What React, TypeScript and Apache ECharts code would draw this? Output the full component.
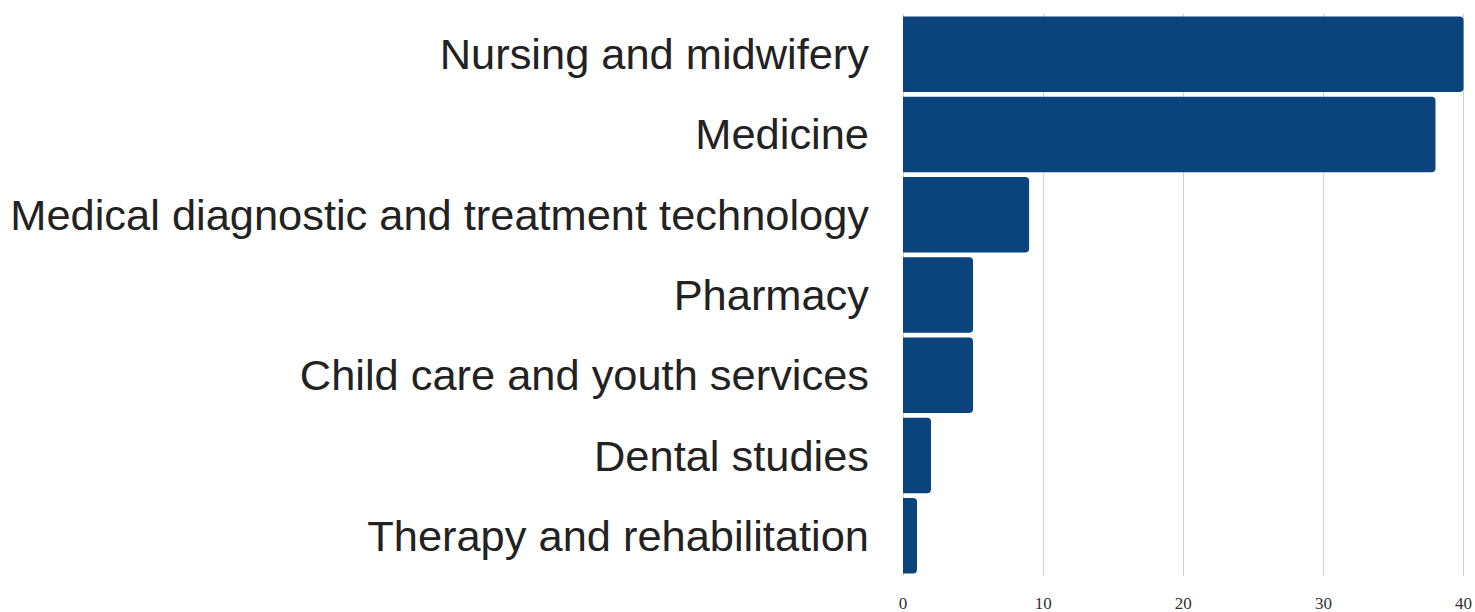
import React, { useEffect, useRef } from "react";
import * as echarts from "echarts";

const categories = [
  "Nursing and midwifery",
  "Medicine",
  "Medical diagnostic and treatment technology",
  "Pharmacy",
  "Child care and youth services",
  "Dental studies",
  "Therapy and rehabilitation",
];
const values = [40, 38, 9, 5, 5, 2, 1];
const xTicks = [0, 10, 20, 30, 40];

export default function App() {
  const ref = useRef<HTMLDivElement>(null);
  useEffect(() => {
    if (!ref.current) return;
    const chart = echarts.init(ref.current, null, { renderer: "svg" });
    chart.setOption({
      animation: false,
      backgroundColor: "#ffffff",
      grid: { left: 903, right: 11, top: 14, bottom: 35, containLabel: false },
      xAxis: {
        type: "value",
        min: xTicks[0],
        max: xTicks[xTicks.length - 1],
        interval: 10,
        axisLine: { show: false },
        axisTick: { show: false },
        splitLine: { show: true, lineStyle: { color: "#d0d0d0", width: 1 } },
        axisLabel: {
          fontFamily: "Liberation Serif",
          fontSize: 17,
          color: "#333333",
          margin: 19,
        },
      },
      yAxis: {
        type: "category",
        data: categories,
        inverse: true,
        axisLine: { show: false },
        axisTick: { show: false },
        splitLine: { show: false },
        axisLabel: {
          fontFamily: "Liberation Sans",
          fontSize: 43.4,
          color: "#222222",
          margin: 34,
        },
      },
      series: [
        {
          type: "bar",
          data: values,
          barCategoryGap: "6%",
          itemStyle: { color: "#0b437c", borderRadius: [0, 4, 4, 0] },
        },
      ],
    });
    return () => chart.dispose();
  }, []);
  return (
    <div
      ref={ref}
      style={{ position: "fixed", left: 0, top: 0, width: 1475, height: 612 }}
    />
  );
}
